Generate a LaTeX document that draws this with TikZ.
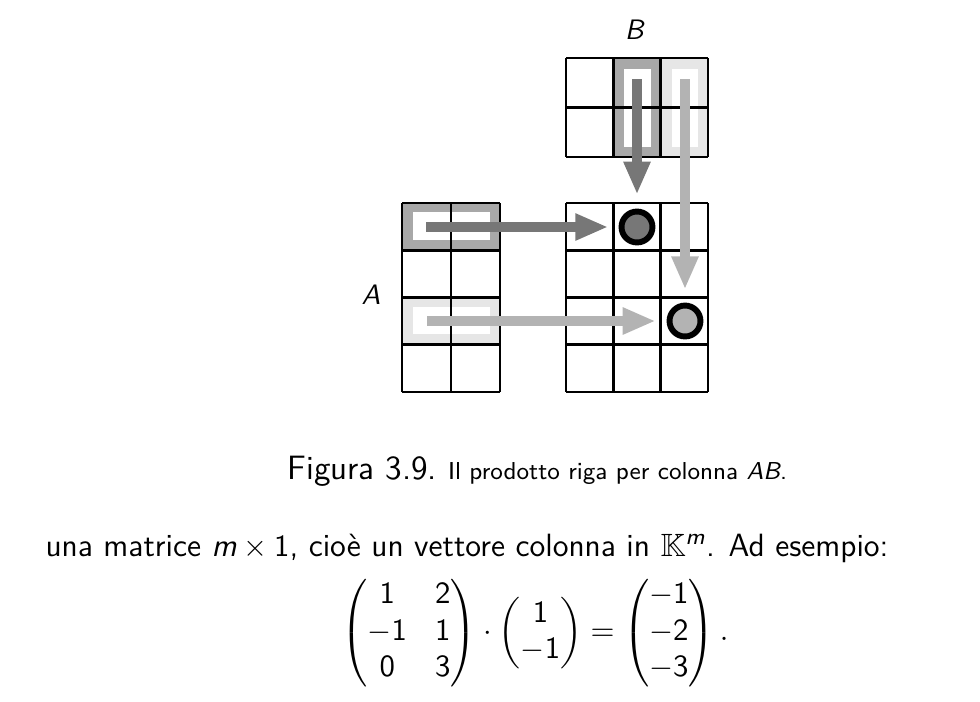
\documentclass[tikz,border=0pt]{standalone}
\usepackage{amsmath}
\usepackage{amssymb}
\usetikzlibrary{arrows.meta,positioning}
\renewcommand{\familydefault}{\sfdefault}
\definecolor{hidark}{HTML}{A8A8A8}
\definecolor{hilight}{HTML}{E6E6E6}
\definecolor{ardark}{HTML}{777777}
\definecolor{arlight}{HTML}{B3B3B3}

\begin{document}
\begin{tikzpicture}[x=0.0125cm, y=-0.0125cm,
        cellline/.style={line width=0.9pt},
        prodarrow/.style={-{Triangle[length=11.7pt, width=8.9pt]}, line width=3.9pt},
        prod/.style={circle, draw=black, line width=2.1pt, minimum size=11pt, inner sep=0pt}]

    \useasboundingbox (0,0) rectangle (980,701);

    % highlighted rows of A and columns of B
    \fill[hidark] (402,203) rectangle (500,250);
    \fill[white] (413,212) rectangle (490,240);
    \fill[hilight] (402,297) rectangle (500,344);
    \fill[white] (413,307) rectangle (490,334);
    \fill[hidark] (613,58) rectangle (660,157);
    \fill[white] (624,69) rectangle (651,147);
    \fill[hilight] (660,58) rectangle (708,157);
    \fill[white] (672,69) rectangle (698,147);

    % matrix A
    \foreach \i in {0,1,2}
        \draw[cellline] ({402+49*\i},203) -- ++(0,189);
    \foreach \j in {0,...,4}
        \draw[cellline] (402,{203+47.25*\j}) -- ++(98,0);
    % matrix B
    \foreach \i in {0,...,3}
        \draw[cellline] ({566+47.33*\i},58) -- ++(0,99);
    \foreach \j in {0,1,2}
        \draw[cellline] (566,{58+49.5*\j}) -- ++(142,0);
    % matrix AB
    \foreach \i in {0,...,3}
        \draw[cellline] ({566+47.33*\i},203) -- ++(0,189);
    \foreach \j in {0,...,4}
        \draw[cellline] (566,{203+47.25*\j}) -- ++(142,0);

    \node (labB) at (635,30) {\textit{B}};
    \node (labA) at (371,295) {\textit{A}};

    \node[prod, fill=ardark] (p12) at (637,227) {};
    \node[prod, fill=arlight] (p33) at (685,321) {};

    \coordinate (rowA1) at (426,227);
    \coordinate (rowA3) at (427,321);
    \coordinate (colB2) at (637,79);
    \coordinate (colB3) at (685,79);

    \draw[prodarrow, ardark, shorten >=3.7pt] (rowA1) -- (p12);
    \draw[prodarrow, ardark, shorten >=5pt] (colB2) -- (p12);
    \draw[prodarrow, arlight, shorten >=4.7pt] (colB3) -- (p33);
    \draw[prodarrow, arlight, shorten >=3.9pt] (rowA3) -- (p33);

    % caption and text below
    \node[anchor=base west, inner sep=0pt] (cap) at (287,479)
        {\large Figura 3.9.\ \fontsize{8.7}{10}\selectfont Il prodotto riga per colonna \textit{AB}.};
    \node[anchor=base west, inner sep=0pt, font=\fontsize{11.45}{14}\selectfont] (txt) at (45,556)
        {una matrice $\textit{m}\times\mathsf{1}$, cioè un vettore colonna in $\mathbb{K}^{\textit{m}}$. Ad esempio:};
    \node[font=\fontsize{10.6}{13}\selectfont] (eq) at (535,633)
        {$\begin{pmatrix}\mathsf{1} & \mathsf{2}\\ \mathsf{-1} & \mathsf{1}\\ \mathsf{0} & \mathsf{3}\end{pmatrix}
          \cdot\begin{pmatrix}\mathsf{1}\\ \mathsf{-1}\end{pmatrix}
          =\begin{pmatrix}\mathsf{-1}\\ \mathsf{-2}\\ \mathsf{-3}\end{pmatrix}.$};

\end{tikzpicture}
\end{document}
